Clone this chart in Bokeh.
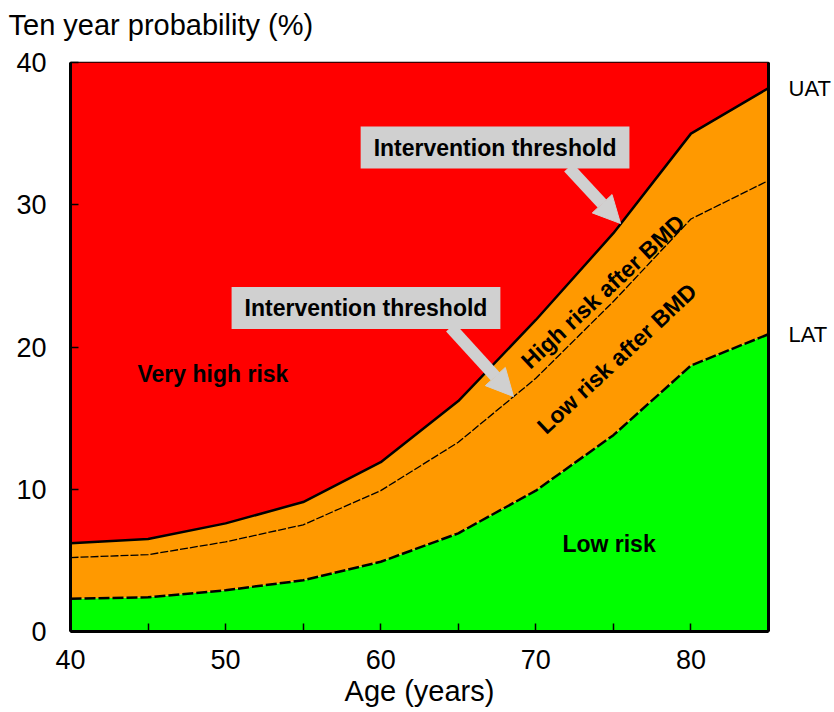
from bokeh.plotting import figure
from bokeh.models import Range1d, FixedTicker, LinearAxis, Label, Arrow, NormalHead, Title
from bokeh.embed import file_html
from bokeh.resources import INLINE

# ---- data ----
ages = [40, 45, 50, 55, 60, 65, 70, 75, 80, 85]
upper_threshold = [6.2, 6.5, 7.6, 9.1, 11.9, 16.2, 21.9, 28.0, 35.0, 38.2]   # UAT
bmd_threshold = [5.2, 5.4, 6.3, 7.5, 9.9, 13.3, 17.8, 23.2, 29.0, 31.7]     # BMD split
lower_threshold = [2.3, 2.4, 2.9, 3.6, 4.9, 6.9, 9.9, 13.8, 18.7, 20.9]     # LAT
x_ticks = [40, 50, 60, 70, 80]
x_minor_ticks = [45, 55, 65, 75]
y_ticks = [0, 10, 20, 30, 40]
end_labels = ["UAT", "LAT"]
x_min, x_max = 40, 85
y_min, y_max = 0, 40

FONT = "Liberation Sans"
RED = "#FF0000"
ORANGE = "#FF9900"
GREEN = "#00FF00"
GREY = "#D0D0D0"

p = figure(width=834, height=712,
           x_range=Range1d(x_min, x_max), y_range=Range1d(y_min, y_max),
           output_backend="svg", toolbar_location=None,
           min_border_left=70, min_border_right=66, min_border_top=62, min_border_bottom=81)

p.grid.visible = False
p.outline_line_color = "black"
p.outline_line_width = 1.5

# spacer panel next to the frame, then the caption title above it
p.add_layout(Title(text=" ", text_font_size="2px", standoff=15), "above")
p.add_layout(Title(text="Ten year probability (%)", text_font=FONT, text_font_size="29px",
                   text_font_style="normal", text_color="black", align="left",
                   offset=-62, standoff=6), "above")

# axes
for ax in (p.xaxis[0], p.yaxis[0]):
    ax.axis_line_width = 3
    ax.major_tick_in = 8
    ax.major_tick_out = 0
    ax.minor_tick_in = 8
    ax.minor_tick_out = 0
    ax.major_tick_line_width = 1.5
    ax.minor_tick_line_width = 1.5
    ax.major_label_text_font = FONT
    ax.major_label_text_font_size = "27px"
    ax.major_label_text_color = "black"

p.xaxis[0].ticker = FixedTicker(ticks=x_ticks, minor_ticks=x_minor_ticks)
p.xaxis[0].major_label_standoff = 18
p.xaxis[0].axis_label = "Age (years)"
p.xaxis[0].axis_label_text_font = FONT
p.xaxis[0].axis_label_text_font_size = "29px"
p.xaxis[0].axis_label_text_font_style = "normal"
p.xaxis[0].axis_label_text_color = "black"
p.xaxis[0].axis_label_standoff = 3

p.yaxis[0].ticker = FixedTicker(ticks=y_ticks, minor_ticks=[])
p.yaxis[0].major_label_standoff = 24

# right axis carries the UAT / LAT end labels
end_values = [upper_threshold[-1], lower_threshold[-1]]
right_axis = LinearAxis(ticker=FixedTicker(ticks=end_values, minor_ticks=[]),
                        major_label_overrides={v: t for v, t in zip(end_values, end_labels)},
                        axis_line_width=3, major_tick_out=0, major_tick_in=0,
                        major_tick_line_color=None, minor_tick_line_color=None,
                        major_label_standoff=20, major_label_text_font=FONT,
                        major_label_text_font_size="22px", major_label_text_color="black")
p.add_layout(right_axis, "right")

# ---- risk bands ----
p.varea(x=ages, y1=[y_min] * len(ages), y2=lower_threshold, fill_color=GREEN)
p.varea(x=ages, y1=lower_threshold, y2=upper_threshold, fill_color=ORANGE)
p.varea(x=ages, y1=upper_threshold, y2=[y_max] * len(ages), fill_color=RED)

# ---- threshold lines ----
p.line(ages, upper_threshold, line_color="black", line_width=2.5)
p.line(ages, bmd_threshold, line_color="black", line_width=1.3, line_dash="8 2")
p.line(ages, lower_threshold, line_color="black", line_width=2.5, line_dash="11 3")

# ---- arrows ----
for (xs, ys, xe, ye) in [(72.11, 32.62, 75.46, 28.68), (64.50, 21.38, 68.56, 16.52)]:
    p.add_layout(Arrow(x_start=xs, y_start=ys, x_end=xe, y_end=ye,
                       line_color=GREY, line_width=12,
                       end=NormalHead(size=27, fill_color=GREY, line_color=GREY, line_width=1)))

# ---- labels ----
def lbl(x, y, text, size="23px", bold=True, align="center", angle=0, **kw):
    p.add_layout(Label(x=x, y=y, text=text, text_font=FONT, text_font_size=size,
                       text_font_style="bold" if bold else "normal",
                       text_align=align, text_baseline="middle", angle=angle,
                       text_color="black", **kw))

lbl(67.37, 34.02, "Intervention threshold", background_fill_color=GREY, padding=(13, 8))
lbl(59.05, 22.74, "Intervention threshold", background_fill_color=GREY, padding=(13, 8))
lbl(44.32, 18.07, "Very high risk", align="left")
lbl(74.72, 6.12, "Low risk")
lbl(74.33, 23.90, "High risk after BMD", angle=0.75)
lbl(75.23, 19.19, "Low risk after BMD", angle=0.75)

open("out.html", "w").write(file_html(p, INLINE))
